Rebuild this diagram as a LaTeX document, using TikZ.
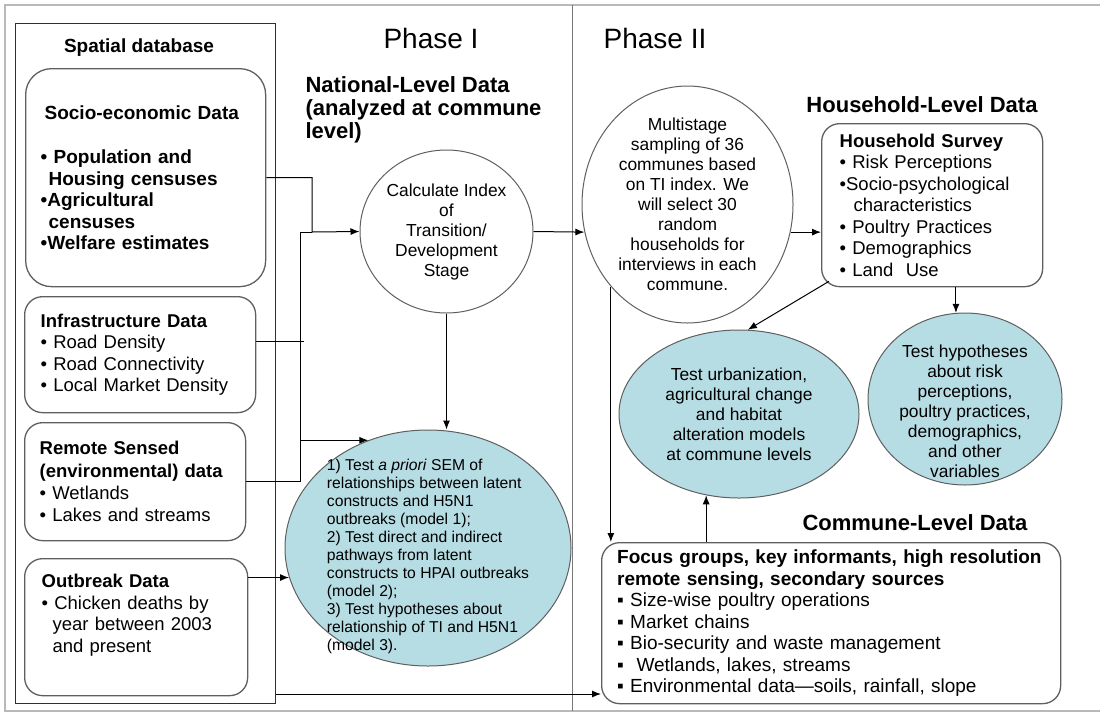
\documentclass[tikz,border=0pt]{standalone}
\usepackage{fontspec}
\setmainfont{Liberation Sans}
\usetikzlibrary{shapes.geometric,arrows.meta}
\definecolor{seablue}{RGB}{183,221,228}
\definecolor{dbframe}{RGB}{35,35,150}
\definecolor{pagegray}{RGB}{185,185,185}
\definecolor{rulegray}{RGB}{120,120,120}
\definecolor{boxgray}{RGB}{95,95,95}
\begin{document}
\begin{tikzpicture}[x=1pt, y=-1pt, line width=1pt, >={Latex[length=9pt,width=7pt]},
  databox/.style={draw=boxgray, line width=1.3pt, rounded corners=18pt, anchor=north west, align=left, inner sep=3pt},
  oval/.style={ellipse, draw=boxgray, inner sep=-40pt, align=center},
  bodyfont/.style={font=\fontsize{18.5}{21.5}\selectfont},
  ovalfont/.style={font=\fontsize{17.4}{20}\selectfont},
  headfont/.style={font=\bfseries\fontsize{22}{23}\selectfont}]
\useasboundingbox (0,0) rectangle (1100,713);
\draw[pagegray, line width=1.2pt] (1100,5) -- (5,5) -- (5,711) -- (1100,711);
\draw[rulegray] (572,5) -- (572,711);

\node[font=\fontsize{28}{30}\selectfont] (phaseone) at (431,38) {Phase I};
\node[font=\fontsize{28}{30}\selectfont] (phasetwo) at (655,38) {Phase II};
\node[headfont, align=left, anchor=west, inner sep=0] (natlevel) at (305,110) {National-Level Data\\(analyzed at commune\\level)};
\node[headfont] (hhlevel) at (922,105) {Household-Level Data};
\node[headfont] (comlevel) at (915,523) {Commune-Level Data};

\node[draw=dbframe, minimum width=260, minimum height=680, anchor=north west, inner sep=0] (spatial) at (15,23) {};
\node[font=\bfseries\fontsize{19}{21}\selectfont] (spatialtitle) at (139,48) {Spatial database};

\node[databox, rounded corners=26pt, minimum width=240, minimum height=218, text width=210pt, font=\bfseries\fontsize{19}{21.5}\selectfont] (socio) at (25,68)
  {\hspace*{4pt}Socio-economic Data\\[23pt]• Population and\\\hspace*{8pt}Housing censuses\\•Agricultural\\\hspace*{8pt}censuses\\•Welfare estimates};
\node[databox, bodyfont, minimum width=231, minimum height=116, text width=199pt] (infra) at (24,296)
  {\textbf{Infrastructure Data}\\• Road Density\\• Road Connectivity\\• Local Market Density};
\node[databox, font=\fontsize{18.5}{22.3}\selectfont, minimum width=221, minimum height=118, text width=191pt] (remote) at (24,422)
  {\textbf{Remote Sensed}\\\textbf{(environmental) data}\\• Wetlands\\• Lakes and streams};
\node[databox, bodyfont, minimum width=223, minimum height=137, text width=189pt] (outbreak) at (24,558)
  {\textbf{Outbreak Data}\\• Chicken deaths by\\\hspace*{11pt}year between 2003\\\hspace*{11pt}and present\\\strut};

\node[oval, ovalfont, minimum width=173, minimum height=163] (calc) at (446.5,231.5)
  {Calculate Index\\of\\Transition/\\Development\\Stage};
\node[oval, fill=seablue, align=left, font=\fontsize{15.7}{18}\selectfont, minimum width=286, minimum height=236] (sem) at (428,548)
  {\rule{0pt}{28pt}1) Test \textit{a priori} SEM of\\relationships between latent\\constructs and H5N1\\outbreaks (model 1);\\2) Test direct and indirect\\pathways from latent\\constructs to HPAI outbreaks\\(model 2);\\3) Test hypotheses about\\relationship of TI and H5N1\\(model 3).};

\node[oval, ovalfont, minimum width=211, minimum height=237] (multi) at (687.5,204.5)
  {Multistage\\sampling of 36\\communes based\\on TI index. We\\will select 30\\random\\households for\\interviews in each\\commune.};
\node[databox, bodyfont, minimum width=221, minimum height=163, text width=185pt] (hh) at (821,123)
  {\textbf{Household Survey}\\• Risk Perceptions\\•Socio-psychological\\\hspace*{14pt}characteristics\\• Poultry Practices\\• Demographics\\• Land\ \ Use};
\node[oval, ovalfont, fill=seablue, minimum width=240, minimum height=168] (urb) at (739,414)
  {Test urbanization,\\agricultural change\\and habitat\\alteration models\\at commune levels};
\node[oval, ovalfont, fill=seablue, minimum width=194, minimum height=172] (hyp) at (965,399)
  {\rule{0pt}{37pt}Test hypotheses\\about risk\\perceptions,\\poultry practices,\\demographics,\\and other\\variables};
\node[databox, font=\fontsize{19}{21.5}\selectfont, minimum width=459, minimum height=161, text width=428pt] (commune) at (601,542)
  {\textbf{Focus groups, key informants, high resolution}\\\textbf{remote sensing, secondary sources}\\▪ Size-wise poultry operations\\▪ Market chains\\▪ Bio-security and waste management\\▪\ \ Wetlands, lakes, streams\\▪ Environmental data—soils, rainfall, slope};

\coordinate (trunk) at (300,232);
\coordinate (bend) at (312,232);
\coordinate (feed) at ([yshift=10pt]spatial.south east);
\draw[->] (socio.east) -| (bend) -- (calc.west);
\draw ([yshift=13pt]infra.east) -- +(48,0);
\draw (remote.east) -| (trunk) -- (bend);
\draw[->] (trunk |- sem.119) -- (sem.119);
\draw[->] (calc.south) -- (calc.south |- sem.north);
\draw[->] (outbreak.east |- sem.192) -- (sem.192);
\draw[->] (calc.east) -- (multi.195);
\draw[->] (multi.-15) -- (hh.west |- multi.-15);
\draw[->] ([shift={(8pt,6pt)}]hh.south west) -- (urb.84);
\draw[->] (hh.south -| hyp.96) -- (hyp.96);
\draw[->] (commune.north -| urb.248) -- (urb.248);
\draw[->] (multi.227) -- (multi.227 |- commune.north);
\draw[->] (feed) -- (feed -| commune.west);
\end{tikzpicture}
\end{document}
